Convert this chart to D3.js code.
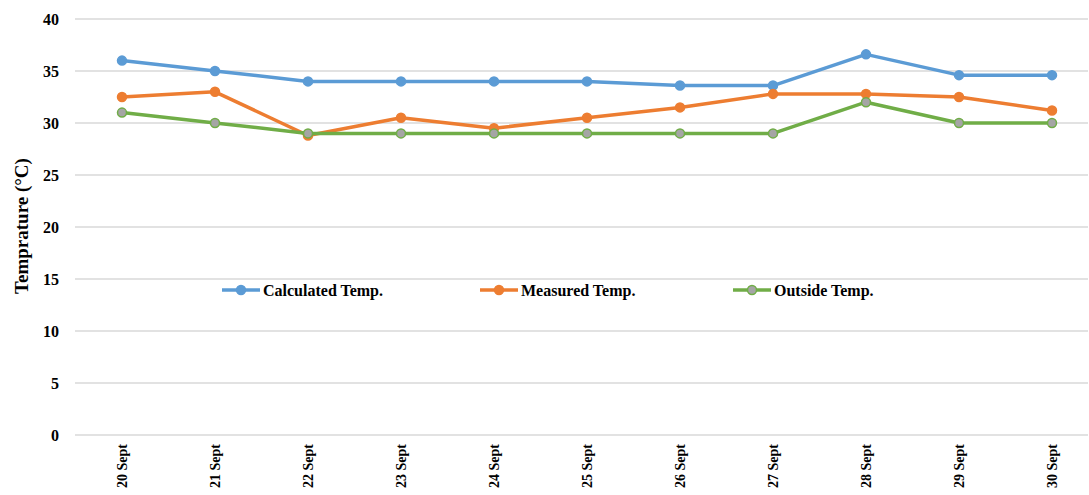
<!DOCTYPE html>
<html>
<head>
<meta charset="utf-8">
<script src="https://cdn.jsdelivr.net/npm/d3@7"></script>
<style>
  body { margin: 0; background: #fff; }
  svg text { font-family: "Liberation Serif", "Times New Roman", Times, "DejaVu Serif", serif !important; }
</style>
</head>
<body>
<div id="chart"></div>
<script>
// Temperature line chart, 20-30 Sept

const days = ["20 Sept", "21 Sept", "22 Sept", "23 Sept", "24 Sept", "25 Sept",
  "26 Sept", "27 Sept", "28 Sept", "29 Sept", "30 Sept"];

const calculatedTemp = [36, 35, 34, 34, 34, 34, 33.6, 33.6, 36.6, 34.6, 34.6];
const measuredTemp = [32.5, 33, 28.8, 30.5, 29.5, 30.5, 31.5, 32.8, 32.8, 32.5, 31.2];
const outsideTemp = [31, 30, 29, 29, 29, 29, 29, 29, 32, 30, 30];

const yTicks = [0, 5, 10, 15, 20, 25, 30, 35, 40];

const series = [
  { name: "Calculated Temp.", values: calculatedTemp, color: "#5b9bd5", fill: "#5b9bd5" },
  { name: "Measured Temp.", values: measuredTemp, color: "#ed7d31", fill: "#ed7d31" },
  { name: "Outside Temp.", values: outsideTemp, color: "#70ad47", fill: "#a5a5a5" }
];

const width = 1089, height = 495;
const plotLeft = 75, plotRight = 1088, plotTop = 19, plotBottom = 435;

const svg = d3.select("#chart").append("svg")
  .attr("width", width)
  .attr("height", height)
  .style("display", "block");

const x = d3.scalePoint()
  .domain(days)
  .range([122, 1052]);

const y = d3.scaleLinear()
  .domain([0, 40])
  .range([plotBottom, plotTop]);

// grid lines
svg.selectAll(".grid")
  .data(yTicks)
  .join("line")
  .attr("class", "grid")
  .attr("x1", plotLeft)
  .attr("x2", plotRight)
  .attr("y1", d => y(d))
  .attr("y2", d => y(d))
  .attr("stroke", "#d9d9d9")
  .attr("stroke-width", 1.5);

// y axis labels
const yAxis = d3.axisLeft(y).tickValues(yTicks).tickSize(0).tickPadding(0);
const yg = svg.append("g")
  .attr("transform", `translate(59,0)`)
  .call(yAxis);
yg.select(".domain").remove();
yg.selectAll("text")
  .attr("font-size", 16)
  .attr("font-weight", "bold")
  .attr("fill", "#000");

// x axis labels
const xAxis = d3.axisBottom(x).tickSize(0).tickPadding(0);
const xg = svg.append("g")
  .attr("transform", `translate(0,${plotBottom})`)
  .call(xAxis);
xg.select(".domain").remove();
xg.selectAll("text")
  .attr("font-size", 14)
  .attr("font-weight", "bold")
  .attr("fill", "#000")
  .attr("text-anchor", "end")
  .attr("dy", "0.35em")
  .attr("transform", "translate(0,9) rotate(-90)")
  .attr("x", 0)
  .attr("y", 0);

// y title
svg.append("text")
  .attr("transform", "translate(28,226) rotate(-90)")
  .attr("text-anchor", "middle")
  .attr("font-size", 19)
  .attr("font-weight", "bold")
  .text("Temprature (°C)");

const line = d3.line()
  .x((d, i) => x(days[i]))
  .y(d => y(d));

series.forEach(s => {
  svg.append("path")
    .attr("d", line(s.values))
    .attr("fill", "none")
    .attr("stroke", s.color)
    .attr("stroke-width", 3.5)
    .attr("stroke-linejoin", "round");

  svg.selectAll(null)
    .data(s.values)
    .join("circle")
    .attr("cx", (d, i) => x(days[i]))
    .attr("cy", d => y(d))
    .attr("r", 4.5)
    .attr("fill", s.fill)
    .attr("stroke", s.color)
    .attr("stroke-width", 1.5);
});

// legend
const legendX = [222, 480, 733];
series.forEach((s, i) => {
  const g = svg.append("g").attr("transform", `translate(${legendX[i]},290)`);
  g.append("line")
    .attr("x1", 0).attr("x2", 38)
    .attr("stroke", s.color)
    .attr("stroke-width", 3.5);
  g.append("circle")
    .attr("cx", 19).attr("r", 4.5)
    .attr("fill", s.fill)
    .attr("stroke", s.color)
    .attr("stroke-width", 1.5);
  g.append("text")
    .attr("x", 41)
    .attr("dy", "0.35em")
    .attr("font-size", 16)
    .attr("font-weight", "bold")
    .text(s.name);
});
</script>
</body>
</html>
